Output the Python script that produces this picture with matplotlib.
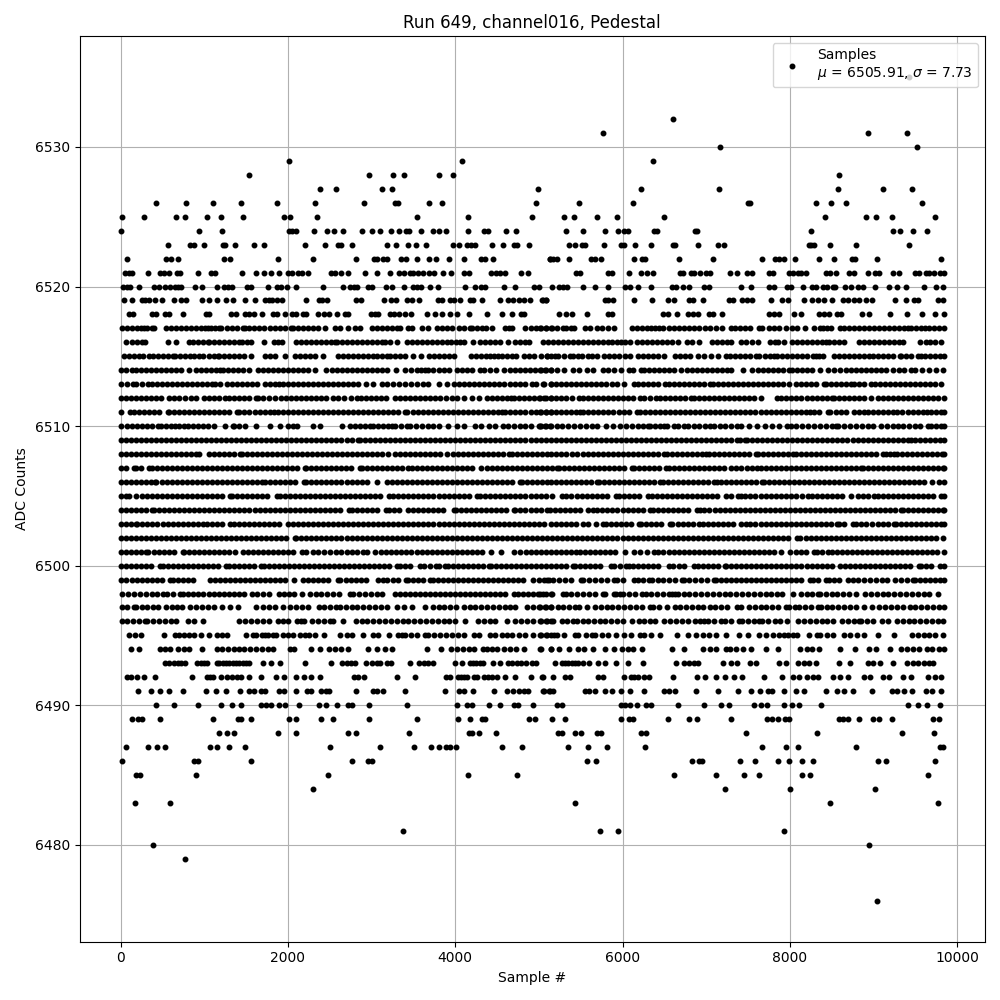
#!/bin/python
import numpy as np
import matplotlib
matplotlib.use('Agg')
import matplotlib.pyplot as plt

# sample numbers, one list per ADC level
adc_6535 = [9425]
adc_6532 = [6600]
adc_6531 = [5772, 8940, 9396]
adc_6530 = [7164, 9516]
adc_6529 = [2012, 4076, 6360]
adc_6528 = [1532, 2972, 3260, 3392, 3800, 3968, 8592]
adc_6527 = [2384, 2576, 3128, 3248, 4988, 6216, 7152, 8580, 9120, 9456]
adc_6526 = [428, 776, 1100, 1436, 1868, 2324, 2912, 3284, 3320, 3692, 3836, 4964, 5484, 6120, 7500, 7524, 8316, 8496, 8676, 9580]
adc_6525 = [20, 284, 656, 764, 1028, 1196, 1460, 1952, 2024, 2348, 3548, 4148, 4916, 5304, 5424, 5700, 5940, 6492, 8424, 8916, 9036, 9228, 9732]
adc_6524 = [0, 932, 1208, 2012, 2048, 2096, 2312, 2468, 2552, 2660, 2888, 3008, 3104, 3236, 3332, 3416, 3452, 3596, 3740, 3800, 3884, 4148, 4340, 4388, 4604, 4724,
            5328, 5532, 5796, 5952, 6012, 6060, 6372, 6408, 6864, 6888, 8256, 9240, 9312, 9468, 9636]
adc_6523 = [560, 824, 872, 992, 1220, 1244, 1364, 1592, 1712, 2204, 2444, 2600, 2636, 2768, 3188, 3296, 3440, 3536, 3656, 3968, 4040, 4136, 4184, 4232, 4436, 4568, 4700, 4736, 4880,
            5364, 5436, 5520, 5556, 5784, 5976, 6012, 6144, 6336, 6600, 6624, 6900, 7140, 7212, 8232, 8256, 8292, 8484, 8796, 9420]
adc_6522 = [80, 536, 596, 680, 1232, 1304, 1880, 2300, 2816, 3032, 3068, 3140, 3188, 3356, 3416, 3548, 3692, 3776, 3920, 4100, 4304, 4352, 4448, 5132,
            5136, 5172, 5220, 5364, 5628, 5676, 5748, 6132, 6228, 6264, 6672, 7080, 7668, 7824, 7872, 7932, 8064, 8352, 8532, 8748, 8784, 9048, 9804]
adc_6521 = [56, 104, 140, 332, 476, 512, 572, 668, 704, 920, 1076, 1124, 1448, 1616, 1712, 1796, 1892, 2000, 2048, 2120, 2168, 2240, 2516, 2564, 2636, 2720, 2924, 3068, 3224, 3332, 3392, 3464, 3500, 3560, 3620, 3692, 3752, 3848, 3944, 4100, 4160, 4424, 4484, 4532, 4592, 4784, 4868,
            5448, 5496, 5832, 5880, 6072, 6216, 6288, 6360, 6684, 6720, 6816, 6852, 6924, 6996, 7044, 7284, 7368, 7488, 7548, 7752, 7800, 7992, 8040, 8100, 8136, 8196, 8436, 8484, 8556, 8712, 8772, 8940, 9024, 9072, 9240, 9300, 9492, 9540, 9624, 9660, 9720, 9792, 9840]
adc_6520 = [32, 80, 116, 224, 404, 464, 524, 584, 644, 680, 716, 884, 968, 1148, 1232, 1280, 1328, 1508, 1556, 1760, 1868, 1916, 1988, 2096, 2420, 2660, 2744, 2792, 2828, 2960, 3008, 3176, 3248, 3392, 3500, 3548, 3596, 3704, 3788, 4112, 4232, 4304, 4352, 4580, 4712, 4940, 5000,
            5160, 5244, 5292, 5340, 5532, 5676, 5832, 6024, 6084, 6180, 6336, 6588, 6636, 6720, 6792, 6972, 7032, 7416, 7536, 7752, 7812, 7968, 8016, 8160, 8268, 8316, 8400, 8448, 8520, 8544, 8664, 8736, 8820, 8880, 9024, 9192, 9276, 9384, 9600, 9744, 9828]
adc_6519 = [44, 140, 260, 296, 344, 416, 488, 632, 716, 776, 968, 1052, 1148, 1256, 1340, 1484, 1604, 1724, 1772, 1808, 1868, 1928, 2216, 2372, 2408, 2468, 2816, 2876, 3152, 3236, 3296, 3428, 3488, 3572, 3788, 3836, 3932, 3980, 4052, 4172, 4208, 4316, 4532, 4628, 4688, 4760, 4820, 4892, 5036, 5084,
            5052, 5088, 5796, 5832, 5892, 6132, 6348, 6540, 6612, 6792, 6840, 6960, 7272, 7320, 7428, 7488, 7548, 7776, 7908, 7980, 8172, 8268, 8340, 8412, 8508, 8640, 8700, 8772, 8832, 8916, 8988, 9264, 9384, 9480, 9528, 9768, 9828]
adc_6518 = [104, 152, 380, 428, 524, 572, 740, 1016, 1052, 1316, 1376, 1484, 1532, 1592, 1688, 1820, 1868, 1964, 2048, 2096, 2180, 2216, 2360, 2432, 2492, 2588, 2684, 2720, 2996, 3044, 3080, 3224, 3272, 3332, 3404, 3476, 3668, 3764, 3836, 3932, 4016, 4160, 4376, 4556, 4676, 4784, 4820,
            5244, 5328, 5400, 5580, 5832, 5880, 6480, 6540, 6648, 6780, 6840, 6900, 7032, 7080, 7188, 7752, 7812, 7872, 8052, 8136, 8352, 8412, 8472, 8568, 8616, 8868, 8952, 9204, 9396, 9576, 9732, 9840]
adc_6517 = [12, 70, 130, 190, 240, 280, 320, 370, 400, 540, 600, 660, 720, 780, 840, 900, 960, 1010, 1040, 1080, 1130, 1172, 1200, 1268, 1330, 1390, 1460, 1484, 1532, 1590, 1650, 1710, 1788, 1840, 1900, 1960, 2040, 2060, 2120, 2180, 2240, 2300, 2360, 2440, 2560, 2620, 2720, 2800, 2860, 3000, 3060, 3120, 3180, 3240, 3300, 3340, 3440, 3480, 3600, 3680, 3780, 3840, 3900, 3960, 4040, 4100, 4180, 4200, 4260, 4320, 4372, 4440, 4600, 4640, 4680, 4832, 4900, 4960, 5020, 5080, 5140,
            5012, 5090, 5160, 5220, 5284, 5324, 5380, 5424, 5552, 5612, 5692, 5750, 5830, 5900, 6112, 6170, 6230, 6290, 6340, 6392, 6432, 6490, 6550, 6610, 6670, 6730, 6790, 6850, 6920, 6992, 7052, 7120, 7192, 7292, 7350, 7410, 7470, 7530, 7632, 7672, 7752, 7812, 7872, 7950, 8032, 8088, 8184, 8292, 8364, 8392, 8440, 8492, 8600, 8652, 8710, 8770, 8830, 8890, 8950, 9010, 9072, 9132, 9190, 9250, 9310, 9370, 9412, 9452, 9510, 9572, 9612, 9670, 9730, 9790, 9840]
adc_6516 = [68, 130, 190, 250, 292, 560, 660, 812, 870, 930, 990, 1040, 1060, 1120, 1180, 1240, 1300, 1360, 1420, 1452, 1510, 1560, 1712, 1828, 1880, 1932, 2100, 2160, 2220, 2280, 2340, 2400, 2460, 2520, 2560, 2588, 2650, 2710, 2770, 2830, 2890, 2950, 3010, 3070, 3120, 3160, 3220, 3308, 3420, 3480, 3540, 3600, 3660, 3720, 3780, 3840, 3900, 3950, 4010, 4060, 4108, 4212, 4300, 4360, 4420, 4480, 4540, 4636, 4720, 4780, 4840, 4880,
            5052, 5110, 5170, 5230, 5290, 5350, 5410, 5470, 5530, 5590, 5650, 5710, 5770, 5832, 5872, 5930, 5980, 6032, 6084, 6172, 6232, 6290, 6350, 6410, 6470, 6530, 6590, 6660, 6772, 6830, 6912, 7072, 7130, 7190, 7250, 7300, 7420, 7480, 7550, 7620, 7764, 7820, 7860, 7932, 8032, 8092, 8150, 8210, 8270, 8330, 8390, 8432, 8472, 8530, 8590, 8644, 8832, 8890, 8950, 9010, 9070, 9130, 9190, 9250, 9310, 9352, 9552, 9632, 9680, 9732, 9812]
adc_6515 = [40, 100, 160, 220, 268, 340, 388, 450, 510, 570, 620, 652, 710, 770, 830, 880, 932, 990, 1050, 1110, 1160, 1172, 1230, 1290, 1350, 1410, 1470, 1560, 1728, 1790, 1840, 1968, 2080, 2140, 2200, 2260, 2320, 2420, 2600, 2660, 2720, 2780, 2840, 2900, 2960, 3020, 3060, 3120, 3180, 3220, 3280, 3340, 3400, 3500, 3592, 3692, 3750, 3810, 3870, 3930, 3980, 4188, 4250, 4310, 4370, 4420, 4460, 4510, 4560, 4620, 4680, 4732, 4820, 4880, 4940, 5020, 5100,
            5092, 5140, 5192, 5232, 5300, 5372, 5412, 5470, 5512, 5592, 5640, 5692, 5780, 5840, 5900, 5960, 6032, 6092, 6180, 6240, 6300, 6360, 6420, 6492, 6632, 6690, 6750, 6812, 6900, 6980, 7060, 7140, 7232, 7290, 7350, 7410, 7470, 7530, 7592, 7632, 7700, 7760, 7812, 7852, 7910, 7970, 8030, 8090, 8150, 8210, 8272, 8312, 8350, 8392, 8532, 8590, 8650, 8710, 8770, 8830, 8890, 8952, 8992, 9050, 9110, 9170, 9230, 9312, 9332, 9390, 9450, 9532, 9564, 9620, 9680, 9740, 9800, 9840]
adc_6514 = [0, 60, 140, 180, 240, 300, 360, 420, 480, 540, 600, 660, 720, 812, 900, 960, 1020, 1080, 1140, 1188, 1220, 1280, 1340, 1400, 1468, 1540, 1640, 1700, 1760, 1820, 1880, 1940, 2000, 2060, 2120, 2180, 2240, 2320, 2460, 2532, 2590, 2650, 2710, 2770, 2830, 2890, 2950, 3010, 3070, 3130, 3190, 3292, 3400, 3470, 3540, 3588, 3640, 3680, 3732, 3800, 3860, 3920, 4020, 4080, 4140, 4200, 4292, 4348, 4420, 4492, 4588, 4650, 4710, 4770, 4830, 4890, 4950, 5010, 5070, 5140,
            5020, 5080, 5140, 5220, 5300, 5410, 5480, 5572, 5652, 5764, 5830, 5900, 5984, 6072, 6130, 6220, 6260, 6320, 6380, 6440, 6500, 6560, 6620, 6700, 6772, 6832, 6890, 6950, 7010, 7070, 7130, 7190, 7250, 7300, 7444, 7552, 7620, 7680, 7740, 7800, 7860, 7920, 7992, 8032, 8090, 8150, 8210, 8270, 8364, 8452, 8530, 8600, 8672, 8730, 8790, 8850, 8910, 8970, 9030, 9090, 9152, 9232, 9300, 9370, 9452, 9500, 9584, 9660, 9752, 9832]
adc_6513 = [0, 70, 152, 180, 250, 332, 372, 430, 490, 550, 610, 670, 730, 790, 850, 910, 970, 1030, 1090, 1132, 1188, 1268, 1330, 1390, 1450, 1510, 1570, 1630, 1728, 1788, 1840, 1888, 1940, 2000, 2060, 2120, 2180, 2240, 2300, 2360, 2420, 2480, 2540, 2600, 2660, 2720, 2780, 2840, 2932, 3012, 3120, 3188, 3250, 3328, 3400, 3470, 3540, 3610, 3680, 3800, 3900, 3980, 4040, 4100, 4160, 4220, 4280, 4340, 4400, 4460, 4520, 4588, 4650, 4710, 4780, 4840, 4920, 4960, 5060, 5140,
            5052, 5140, 5200, 5260, 5320, 5380, 5440, 5500, 5560, 5620, 5680, 5740, 5800, 5872, 5940, 6012, 6132, 6190, 6250, 6310, 6370, 6430, 6512, 6552, 6610, 6670, 6730, 6790, 6850, 6910, 6970, 7052, 7084, 7140, 7200, 7260, 7320, 7380, 7440, 7500, 7560, 7620, 7680, 7740, 7800, 7860, 7920, 7992, 8072, 8130, 8190, 8250, 8310, 8404, 8432, 8490, 8550, 8610, 8670, 8732, 8772, 8830, 8890, 8972, 9024, 9080, 9140, 9200, 9260, 9320, 9380, 9440, 9500, 9560, 9620, 9680, 9740, 9812]
adc_6512 = [0, 60, 120, 180, 240, 300, 360, 420, 480, 580, 640, 700, 770, 840, 900, 992, 1050, 1110, 1170, 1252, 1292, 1350, 1410, 1470, 1530, 1612, 1644, 1700, 1770, 1848, 1920, 1980, 2040, 2100, 2160, 2220, 2280, 2340, 2400, 2460, 2540, 2600, 2670, 2748, 2820, 2868, 2930, 2990, 3050, 3110, 3170, 3280, 3340, 3400, 3460, 3520, 3580, 3640, 3700, 3760, 3820, 3890, 3960, 4020, 4100, 4200, 4280, 4380, 4440, 4500, 4560, 4620, 4668, 4700, 4760, 4820, 4880, 4940, 5000, 5060, 5140,
            5012, 5080, 5140, 5200, 5260, 5320, 5400, 5480, 5524, 5590, 5650, 5710, 5770, 5830, 5890, 5950, 6010, 6070, 6130, 6212, 6260, 6330, 6404, 6452, 6510, 6570, 6630, 6690, 6750, 6820, 6852, 6910, 6970, 7030, 7090, 7150, 7210, 7270, 7330, 7390, 7450, 7510, 7570, 7660, 7844, 7900, 7960, 8020, 8080, 8140, 8200, 8260, 8320, 8380, 8440, 8504, 8532, 8590, 8650, 8710, 8770, 8830, 8890, 8972, 9052, 9110, 9170, 9230, 9290, 9350, 9410, 9470, 9530, 9590, 9650, 9710, 9770, 9840]
adc_6511 = [0, 108, 160, 220, 280, 340, 400, 460, 560, 580, 640, 700, 760, 820, 880, 940, 1000, 1060, 1120, 1180, 1240, 1300, 1388, 1420, 1480, 1540, 1600, 1660, 1720, 1788, 1828, 1880, 1940, 2000, 2060, 2120, 2180, 2240, 2300, 2360, 2420, 2480, 2540, 2600, 2660, 2720, 2780, 2840, 2900, 2960, 3020, 3080, 3140, 3200, 3260, 3320, 3400, 3428, 3490, 3550, 3610, 3670, 3730, 3790, 3850, 3910, 3970, 4030, 4090, 4150, 4210, 4270, 4330, 4390, 4450, 4510, 4560, 4600, 4660, 4720, 4780, 4840, 4900, 4960, 5020, 5080, 5140,
            5012, 5080, 5140, 5200, 5260, 5320, 5380, 5440, 5492, 5524, 5590, 5650, 5710, 5770, 5830, 5890, 5960, 6012, 6080, 6172, 6212, 6270, 6330, 6390, 6450, 6510, 6570, 6630, 6690, 6750, 6810, 6870, 6930, 6990, 7050, 7110, 7170, 7230, 7290, 7350, 7410, 7470, 7530, 7590, 7650, 7710, 7770, 7830, 7890, 7950, 8010, 8070, 8130, 8190, 8244, 8284, 8350, 8452, 8484, 8550, 8610, 8670, 8772, 8832, 8884, 8940, 9000, 9060, 9120, 9180, 9232, 9284, 9344, 9410, 9470, 9530, 9590, 9644, 9684, 9750, 9810, 9842]
adc_6510 = [0, 80, 140, 200, 260, 320, 380, 452, 480, 540, 600, 652, 692, 760, 800, 860, 920, 980, 1040, 1120, 1252, 1340, 1360, 1420, 1488, 1612, 1788, 1908, 2000, 2060, 2108, 2300, 2380, 2652, 2740, 2800, 2860, 2920, 2980, 3020, 3080, 3140, 3200, 3240, 3280, 3350, 3420, 3460, 3530, 3600, 3670, 3740, 3810, 3912, 4020, 4100, 4240, 4310, 4400, 4480, 4572, 4630, 4700, 4770, 4840, 4910, 5000, 5028, 5080, 5140,
            5012, 5070, 5132, 5212, 5280, 5350, 5420, 5490, 5560, 5630, 5700, 5804, 5884, 5972, 6040, 6110, 6180, 6240, 6300, 6324, 6390, 6450, 6500, 6532, 6620, 6660, 6732, 6780, 6850, 6920, 6990, 7052, 7092, 7160, 7230, 7300, 7370, 7412, 7512, 7604, 7700, 7792, 7870, 7964, 8012, 8080, 8150, 8220, 8290, 8360, 8430, 8500, 8552, 8580, 8650, 8720, 8790, 8860, 8930, 9000, 9092, 9160, 9230, 9290, 9352, 9424, 9500, 9552, 9652, 9684, 9750, 9810, 9840]
adc_6509 = [0, 60, 120, 180, 240, 300, 360, 420, 480, 540, 600, 660, 720, 780, 840, 900, 960, 1020, 1080, 1140, 1200, 1260, 1320, 1380, 1440, 1500, 1560, 1620, 1680, 1740, 1800, 1860, 1920, 1980, 2040, 2100, 2160, 2220, 2280, 2340, 2400, 2460, 2520, 2580, 2640, 2700, 2760, 2840, 2860, 2920, 2980, 3040, 3100, 3160, 3220, 3280, 3340, 3400, 3460, 3520, 3580, 3640, 3700, 3760, 3820, 3880, 3940, 4000, 4060, 4120, 4180, 4240, 4300, 4360, 4420, 4480, 4540, 4600, 4660, 4720, 4780, 4840, 4900, 4960, 5020, 5080, 5140,
            5200, 5260, 5320, 5380, 5440, 5500, 5560, 5620, 5680, 5740, 5800, 5860, 5920, 5980, 6040, 6100, 6160, 6220, 6280, 6340, 6400, 6460, 6520, 6580, 6640, 6700, 6760, 6820, 6880, 6940, 7000, 7060, 7120, 7180, 7240, 7300, 7372, 7404, 7460, 7492, 7550, 7610, 7670, 7730, 7790, 7850, 7910, 7970, 8030, 8090, 8150, 8210, 8270, 8330, 8390, 8450, 8510, 8570, 8630, 8690, 8750, 8810, 8870, 8930, 8990, 9050, 9110, 9170, 9230, 9290, 9350, 9412, 9444, 9500, 9560, 9620, 9680, 9740, 9800, 9842]
adc_6508 = [0, 60, 120, 180, 240, 300, 360, 420, 480, 540, 600, 660, 720, 780, 840, 900, 940, 1052, 1110, 1170, 1230, 1290, 1350, 1428, 1452, 1510, 1570, 1630, 1690, 1750, 1810, 1870, 1930, 1990, 2050, 2110, 2170, 2230, 2290, 2350, 2410, 2470, 2530, 2590, 2650, 2710, 2770, 2830, 2890, 2950, 3010, 3070, 3130, 3200, 3280, 3340, 3400, 3460, 3520, 3580, 3640, 3700, 3760, 3820, 3900, 3972, 4030, 4090, 4150, 4210, 4270, 4330, 4390, 4450, 4510, 4570, 4640, 4680, 4740, 4800, 4860, 4920, 4980, 5040, 5100, 5140,
            5200, 5260, 5320, 5400, 5452, 5524, 5590, 5650, 5710, 5770, 5830, 5890, 5950, 6010, 6070, 6130, 6190, 6250, 6310, 6370, 6430, 6492, 6532, 6592, 6650, 6710, 6770, 6830, 6890, 6950, 7004, 7032, 7090, 7150, 7210, 7270, 7330, 7390, 7450, 7510, 7592, 7620, 7680, 7740, 7800, 7860, 7920, 7980, 8044, 8072, 8130, 8190, 8250, 8310, 8370, 8430, 8490, 8550, 8610, 8670, 8730, 8790, 8850, 8910, 8970, 9030, 9112, 9152, 9200, 9252, 9284, 9340, 9400, 9460, 9520, 9580, 9640, 9700, 9760, 9820, 9842]
adc_6507 = [0, 60, 160, 180, 240, 340, 372, 430, 490, 550, 610, 670, 730, 790, 850, 910, 970, 1030, 1090, 1150, 1210, 1270, 1330, 1390, 1450, 1510, 1570, 1630, 1690, 1750, 1810, 1870, 1930, 1990, 2050, 2110, 2200, 2212, 2270, 2330, 2390, 2450, 2510, 2570, 2630, 2690, 2750, 2860, 2880, 2940, 3000, 3060, 3120, 3180, 3240, 3300, 3360, 3440, 3480, 3540, 3600, 3660, 3720, 3780, 3840, 3900, 3960, 4020, 4080, 4140, 4200, 4308, 4380, 4440, 4500, 4560, 4620, 4680, 4740, 4800, 4860, 4920, 4980, 5040, 5100,
            5160, 5212, 5244, 5300, 5360, 5420, 5480, 5540, 5600, 5660, 5720, 5780, 5840, 5900, 5960, 6020, 6112, 6140, 6200, 6260, 6320, 6380, 6440, 6524, 6552, 6610, 6670, 6730, 6790, 6850, 6910, 6970, 7030, 7090, 7150, 7210, 7292, 7352, 7420, 7490, 7550, 7612, 7652, 7710, 7770, 7830, 7890, 7950, 8010, 8070, 8130, 8190, 8250, 8310, 8370, 8430, 8490, 8550, 8610, 8670, 8730, 8790, 8852, 8872, 8930, 8990, 9050, 9110, 9170, 9230, 9290, 9350, 9410, 9470, 9530, 9590, 9650, 9710, 9770, 9830, 9842]
adc_6506 = [0, 60, 120, 180, 240, 300, 360, 412, 428, 490, 550, 610, 670, 730, 790, 850, 910, 970, 1030, 1090, 1150, 1210, 1270, 1330, 1390, 1450, 1510, 1570, 1630, 1688, 1728, 1780, 1840, 1900, 1960, 2020, 2080, 2188, 2220, 2280, 2340, 2400, 2460, 2520, 2580, 2640, 2700, 2760, 2820, 2880, 2940, 3060, 3180, 3240, 3300, 3360, 3420, 3480, 3540, 3600, 3660, 3720, 3780, 3840, 3900, 3960, 4020, 4080, 4140, 4200, 4260, 4320, 4380, 4440, 4500, 4560, 4620, 4680, 4772, 4800, 4860, 4920, 4980, 5040, 5100,
            5140, 5200, 5260, 5320, 5380, 5440, 5500, 5560, 5620, 5700, 5724, 5780, 5840, 5900, 5960, 6020, 6080, 6140, 6200, 6260, 6320, 6380, 6452, 6484, 6540, 6600, 6660, 6720, 6780, 6840, 6900, 6960, 7020, 7092, 7124, 7180, 7240, 7300, 7360, 7420, 7480, 7540, 7600, 7664, 7692, 7750, 7810, 7870, 7930, 7990, 8050, 8110, 8170, 8230, 8290, 8350, 8410, 8470, 8530, 8590, 8650, 8710, 8770, 8830, 8890, 8950, 9010, 9070, 9130, 9190, 9250, 9310, 9370, 9430, 9490, 9550, 9610, 9700, 9780, 9842]
adc_6505 = [0, 60, 100, 188, 250, 310, 370, 430, 490, 550, 610, 670, 730, 790, 850, 910, 970, 1030, 1090, 1150, 1210, 1308, 1332, 1390, 1450, 1510, 1570, 1630, 1690, 1750, 1868, 1900, 1960, 2020, 2080, 2140, 2200, 2260, 2320, 2380, 2440, 2500, 2560, 2620, 2680, 2740, 2800, 2860, 2920, 2980, 3040, 3100, 3212, 3260, 3320, 3380, 3440, 3500, 3560, 3620, 3680, 3740, 3800, 3860, 3920, 3980, 4040, 4100, 4160, 4260, 4300, 4360, 4420, 4480, 4540, 4600, 4660, 4720, 4780, 4840, 4900, 4960, 5020, 5080,
            5152, 5272, 5330, 5390, 5450, 5510, 5570, 5630, 5690, 5750, 5810, 5924, 5964, 6020, 6080, 6140, 6200, 6300, 6352, 6412, 6470, 6530, 6590, 6650, 6710, 6770, 6830, 6890, 6950, 7010, 7070, 7130, 7232, 7292, 7380, 7412, 7470, 7530, 7590, 7650, 7710, 7770, 7830, 7890, 7950, 8010, 8070, 8152, 8212, 8270, 8330, 8390, 8450, 8510, 8570, 8630, 8732, 8812, 8870, 8940, 9012, 9052, 9110, 9170, 9230, 9290, 9350, 9410, 9470, 9530, 9590, 9650, 9710, 9812, 9840]
adc_6504 = [0, 60, 120, 180, 240, 300, 372, 400, 460, 520, 580, 640, 700, 760, 820, 880, 940, 1000, 1060, 1120, 1180, 1240, 1300, 1360, 1420, 1480, 1540, 1600, 1660, 1720, 1780, 1840, 1900, 1960, 2020, 2080, 2140, 2200, 2260, 2320, 2380, 2440, 2500, 2560, 2620, 2732, 2760, 2820, 2880, 2940, 3000, 3060, 3172, 3212, 3270, 3330, 3440, 3492, 3550, 3610, 3670, 3730, 3790, 3850, 3988, 4012, 4070, 4130, 4190, 4250, 4310, 4370, 4430, 4490, 4550, 4610, 4700, 4720, 4780, 4840, 4900, 4960, 5020, 5092,
            5132, 5190, 5250, 5310, 5370, 5430, 5490, 5592, 5644, 5700, 5760, 5820, 5880, 5940, 6000, 6060, 6120, 6180, 6240, 6332, 6364, 6420, 6480, 6540, 6600, 6660, 6720, 6780, 6892, 6924, 6980, 7040, 7100, 7160, 7220, 7280, 7340, 7400, 7460, 7520, 7580, 7640, 7700, 7760, 7820, 7880, 7940, 8000, 8060, 8120, 8180, 8240, 8300, 8360, 8420, 8480, 8540, 8600, 8660, 8720, 8780, 8840, 8900, 8960, 9020, 9080, 9140, 9200, 9260, 9324, 9352, 9410, 9470, 9530, 9590, 9650, 9710, 9770, 9830, 9842]
adc_6503 = [0, 60, 120, 180, 200, 260, 320, 380, 440, 500, 560, 620, 680, 740, 800, 860, 920, 980, 1028, 1092, 1150, 1210, 1308, 1352, 1410, 1470, 1530, 1590, 1650, 1710, 1770, 1830, 1890, 2000, 2060, 2120, 2180, 2240, 2300, 2360, 2420, 2480, 2540, 2600, 2660, 2720, 2780, 2840, 2900, 2960, 3020, 3080, 3140, 3200, 3260, 3320, 3380, 3440, 3500, 3560, 3620, 3680, 3740, 3800, 3860, 3920, 3980, 4040, 4100, 4160, 4220, 4280, 4340, 4400, 4460, 4520, 4580, 4640, 4700, 4760, 4820, 4880, 4940, 5000, 5060, 5140,
            5200, 5260, 5320, 5380, 5440, 5524, 5592, 5680, 5772, 5804, 5860, 5920, 5980, 6040, 6100, 6192, 6220, 6280, 6340, 6400, 6460, 6572, 6596, 6660, 6720, 6780, 6840, 6912, 6964, 7020, 7080, 7140, 7200, 7260, 7320, 7412, 7472, 7530, 7590, 7650, 7710, 7770, 7830, 7890, 7950, 8010, 8070, 8130, 8190, 8250, 8310, 8370, 8430, 8490, 8564, 8592, 8650, 8752, 8792, 8850, 8910, 8980, 9052, 9110, 9170, 9252, 9268, 9330, 9390, 9450, 9510, 9570, 9630, 9690, 9750, 9810, 9842]
adc_6502 = [0, 60, 120, 180, 240, 300, 360, 420, 480, 540, 600, 660, 720, 780, 840, 900, 960, 1020, 1080, 1140, 1200, 1260, 1320, 1380, 1440, 1500, 1560, 1620, 1680, 1740, 1800, 1860, 1920, 1980, 2080, 2100, 2160, 2220, 2280, 2340, 2400, 2460, 2520, 2580, 2640, 2700, 2760, 2820, 2880, 2940, 3000, 3060, 3120, 3180, 3240, 3300, 3360, 3420, 3480, 3540, 3600, 3660, 3720, 3780, 3840, 3900, 3960, 4020, 4080, 4140, 4200, 4260, 4320, 4380, 4440, 4500, 4560, 4620, 4680, 4740, 4800, 4860, 4920, 4980, 5040, 5100,
            5160, 5220, 5280, 5340, 5400, 5460, 5520, 5580, 5640, 5700, 5760, 5820, 5880, 5940, 6000, 6060, 6120, 6180, 6240, 6300, 6360, 6420, 6480, 6540, 6600, 6660, 6720, 6780, 6840, 6900, 6960, 7020, 7080, 7140, 7200, 7260, 7320, 7380, 7440, 7500, 7560, 7620, 7680, 7740, 7800, 7860, 7920, 7980, 8084, 8124, 8192, 8250, 8310, 8370, 8430, 8490, 8550, 8610, 8670, 8730, 8790, 8850, 8910, 8970, 9030, 9090, 9150, 9210, 9270, 9330, 9390, 9450, 9510, 9570, 9630, 9690, 9750, 9830]
adc_6501 = [0, 60, 120, 180, 240, 300, 332, 400, 460, 520, 580, 640, 740, 760, 820, 880, 940, 1000, 1060, 1120, 1180, 1240, 1300, 1372, 1460, 1520, 1580, 1640, 1700, 1760, 1820, 1880, 1940, 2000, 2060, 2172, 2220, 2300, 2360, 2430, 2500, 2580, 2640, 2700, 2760, 2820, 2892, 2940, 3040, 3108, 3170, 3230, 3290, 3350, 3410, 3470, 3540, 3600, 3660, 3720, 3780, 3840, 3900, 3960, 4020, 4080, 4140, 4200, 4260, 4320, 4428, 4548, 4708, 4780, 4852, 4900, 4960, 5020, 5080, 5140,
            5200, 5260, 5320, 5380, 5440, 5492, 5550, 5610, 5670, 5730, 5790, 5850, 5910, 6032, 6140, 6210, 6292, 6372, 6430, 6490, 6550, 6610, 6670, 6730, 6790, 6850, 6910, 6970, 7030, 7090, 7150, 7210, 7270, 7330, 7390, 7450, 7510, 7570, 7630, 7690, 7750, 7810, 7900, 8004, 8070, 8130, 8190, 8284, 8324, 8390, 8452, 8500, 8560, 8620, 8680, 8740, 8800, 8860, 8920, 8980, 9040, 9100, 9160, 9220, 9280, 9340, 9400, 9460, 9520, 9580, 9640, 9700, 9760, 9840]
adc_6500 = [0, 60, 120, 180, 240, 300, 360, 468, 500, 560, 620, 680, 740, 800, 860, 920, 980, 1040, 1100, 1160, 1260, 1292, 1350, 1410, 1470, 1530, 1590, 1680, 1708, 1770, 1830, 1890, 1950, 2010, 2070, 2130, 2190, 2250, 2310, 2370, 2430, 2490, 2550, 2610, 2670, 2730, 2790, 2850, 2910, 2970, 3030, 3090, 3150, 3210, 3300, 3340, 3400, 3460, 3580, 3628, 3700, 3772, 3804, 3880, 3908, 3970, 4030, 4090, 4150, 4210, 4270, 4330, 4400, 4428, 4490, 4550, 4610, 4670, 4730, 4790, 4850, 4910, 4970, 5030, 5090,
            5140, 5200, 5260, 5320, 5412, 5432, 5490, 5550, 5610, 5670, 5730, 5860, 5900, 5970, 6044, 6072, 6130, 6190, 6250, 6310, 6370, 6430, 6552, 6600, 6670, 6740, 6860, 6900, 6960, 7020, 7080, 7140, 7220, 7236, 7300, 7360, 7420, 7480, 7540, 7600, 7660, 7720, 7780, 7840, 7900, 7960, 8020, 8080, 8140, 8200, 8260, 8320, 8380, 8440, 8500, 8604, 8664, 8720, 8780, 8840, 8900, 8960, 9020, 9080, 9140, 9200, 9260, 9320, 9380, 9440, 9540, 9572, 9632, 9692, 9792, 9842]
adc_6499 = [0, 68, 130, 190, 250, 310, 370, 430, 490, 588, 620, 680, 740, 800, 868, 1068, 1130, 1190, 1250, 1310, 1370, 1430, 1490, 1550, 1610, 1670, 1730, 1790, 1850, 1910, 1970, 2068, 2180, 2240, 2300, 2360, 2420, 2480, 2600, 2628, 2690, 2750, 2810, 2870, 2930, 3080, 3132, 3190, 3250, 3310, 3412, 3440, 3500, 3560, 3620, 3700, 3732, 3790, 3850, 3910, 3970, 4030, 4090, 4150, 4210, 4270, 4330, 4390, 4450, 4510, 4570, 4630, 4690, 4750, 4810, 4932, 5000, 5060, 5120,
            5100, 5172, 5240, 5310, 5380, 5500, 5532, 5600, 5670, 5740, 5810, 5900, 5940, 6010, 6140, 6180, 6250, 6312, 6356, 6420, 6490, 6560, 6630, 6712, 6740, 6800, 6870, 6940, 7010, 7092, 7112, 7180, 7240, 7300, 7360, 7420, 7480, 7540, 7600, 7660, 7720, 7780, 7840, 7900, 7960, 8020, 8080, 8140, 8244, 8272, 8340, 8432, 8472, 8530, 8590, 8692, 8752, 8820, 8890, 8960, 9030, 9100, 9164, 9260, 9324, 9400, 9472, 9500, 9560, 9620, 9680, 9740, 9800, 9840]
adc_6498 = [20, 90, 160, 230, 300, 370, 440, 508, 548, 620, 708, 748, 810, 870, 930, 990, 1050, 1110, 1170, 1230, 1290, 1350, 1410, 1470, 1572, 1628, 1700, 1770, 1892, 1948, 2010, 2070, 2172, 2260, 2330, 2400, 2470, 2540, 2610, 2740, 2780, 2850, 2920, 2990, 3060, 3130, 3280, 3340, 3400, 3460, 3520, 3580, 3640, 3700, 3760, 3820, 3880, 3940, 4000, 4060, 4120, 4180, 4240, 4300, 4360, 4420, 4480, 4540, 4600, 4700, 4748, 4810, 4870, 4930, 4990, 5050, 5140,
            5012, 5090, 5160, 5292, 5324, 5390, 5460, 5530, 5600, 5670, 5772, 5792, 5900, 5924, 5972, 6004, 6080, 6150, 6232, 6276, 6340, 6410, 6480, 6556, 6592, 6632, 6660, 6730, 6800, 6870, 6940, 7010, 7080, 7150, 7220, 7290, 7360, 7430, 7500, 7570, 7640, 7710, 7780, 7850, 7912, 8040, 8140, 8210, 8270, 8332, 8364, 8430, 8500, 8570, 8640, 8710, 8792, 8900, 8970, 9040, 9110, 9180, 9250, 9320, 9390, 9460, 9530, 9604, 9660, 9772]
adc_6497 = [12, 80, 160, 188, 252, 320, 390, 452, 540, 612, 670, 732, 828, 900, 970, 1040, 1110, 1212, 1308, 1400, 1620, 1700, 1770, 1840, 1940, 2028, 2100, 2170, 2240, 2372, 2428, 2508, 2570, 2628, 2688, 2760, 2830, 2900, 2970, 3040, 3110, 3180, 3300, 3388, 3480, 3640, 3732, 3800, 3860, 3932, 4004, 4100, 4172, 4240, 4310, 4380, 4452, 4520, 4590, 4652, 4720, 4860, 4930, 5000, 5070, 5140,
            5012, 5080, 5150, 5232, 5292, 5360, 5430, 5484, 5572, 5672, 5740, 5810, 5880, 5950, 6020, 6090, 6160, 6230, 6332, 6364, 6440, 6532, 6624, 6690, 6760, 6830, 6900, 6964, 7044, 7110, 7180, 7250, 7364, 7412, 7512, 7580, 7650, 7720, 7790, 7860, 7952, 7992, 8060, 8112, 8184, 8250, 8332, 8372, 8440, 8510, 8580, 8650, 8720, 8790, 8884, 8980, 9072, 9140, 9210, 9280, 9350, 9432, 9500, 9570, 9640, 9710, 9780, 9840]
adc_6496 = [12, 80, 150, 220, 292, 320, 390, 460, 530, 600, 660, 800, 880, 980, 1420, 1490, 1560, 1630, 1700, 1770, 1880, 1940, 2000, 2108, 2160, 2188, 2292, 2360, 2428, 2500, 2540, 2660, 2812, 2880, 2950, 3020, 3090, 3160, 3230, 3300, 3370, 3440, 3510, 3580, 3650, 3720, 3790, 3860, 3930, 4000, 4120, 4268, 4340, 4410, 4480, 4620, 4720, 4790, 4860, 4930, 5020, 5080, 5140,
            5012, 5092, 5172, 5272, 5340, 5404, 5452, 5532, 5592, 5660, 5732, 5792, 5860, 5930, 6000, 6112, 6192, 6260, 6324, 6392, 6500, 6570, 6640, 6710, 6780, 6872, 6932, 6972, 7024, 7090, 7172, 7220, 7300, 7392, 7432, 7500, 7570, 7632, 7672, 7740, 7820, 7884, 7972, 8100, 8170, 8240, 8310, 8380, 8450, 8520, 8624, 8700, 8770, 8832, 8852, 8920, 9000, 9100, 9172, 9284, 9350, 9420, 9490, 9560, 9630, 9700, 9772, 9830]
adc_6495 = [100, 170, 240, 520, 652, 700, 760, 820, 880, 960, 1060, 1148, 1210, 1268, 1500, 1580, 1620, 1688, 1720, 1760, 1820, 1860, 1940, 2000, 2060, 2140, 2200, 2252, 2320, 2428, 2628, 2700, 2770, 2892, 3012, 3080, 3212, 3312, 3360, 3400, 3470, 3540, 3640, 3680, 3750, 3820, 3890, 3960, 4030, 4100, 4220, 4280, 4420, 4480, 4560, 4620, 4680, 4760, 4840, 4932, 5020, 5080, 5140,
            5012, 5100, 5180, 5220, 5300, 5432, 5472, 5560, 5632, 5672, 5750, 5832, 5924, 6020, 6100, 6212, 6252, 6340, 6452, 6652, 6780, 6884, 6960, 7040, 7112, 7236, 7392, 7500, 7632, 7710, 7804, 7872, 7932, 7984, 8040, 8092, 8232, 8324, 8364, 8440, 8512, 8644, 8720, 8800, 8884, 9060, 9244, 9460, 9530, 9600, 9670, 9740, 9830]
adc_6494 = [120, 220, 468, 530, 588, 680, 760, 820, 968, 1148, 1210, 1280, 1350, 1420, 1480, 1550, 1620, 1690, 1760, 1820, 2028, 2068, 2280, 2388, 2492, 2560, 2640, 2720, 2952, 3060, 3160, 3240, 3668, 3828, 3948, 4020, 4090, 4160, 4230, 4332, 4380, 4440, 4500, 4588, 4660, 4732, 4828, 5028, 5140,
            5012, 5140, 5240, 5364, 5472, 5544, 5652, 5792, 5904, 5992, 6060, 6130, 6232, 6588, 6732, 6964, 7052, 7120, 7232, 7284, 7352, 7440, 7540, 7712, 7860, 8124, 8200, 8270, 8352, 8604, 8784, 8944, 9032, 9200, 9324, 9400, 9470, 9540, 9644, 9700, 9780, 9840]
adc_6493 = [532, 580, 640, 680, 720, 772, 908, 960, 1000, 1028, 1148, 1180, 1228, 1260, 1300, 1340, 1380, 1420, 1460, 1500, 1540, 1700, 1796, 1904, 2204, 2516, 2644, 2700, 2748, 2804, 2932, 3000, 3060, 3100, 3188, 3232, 3464, 3572, 3628, 3680, 3732, 3996, 4076, 4172, 4212, 4252, 4292, 4332, 4448, 4532, 4628, 4680, 4740, 4788, 4852, 4920, 4968,
            5192, 5272, 5312, 5352, 5392, 5432, 5472, 5532, 5596, 5712, 5792, 5924, 6060, 6240, 6644, 6732, 6792, 6852, 6900, 7200, 7300, 7372, 7524, 7592, 7872, 7952, 8100, 8172, 8232, 8312, 8592, 8724, 8940, 8992, 9076, 9240, 9396, 9472, 9532, 9604, 9664, 9716]
adc_6492 = [80, 128, 200, 284, 412, 848, 1028, 1068, 1108, 1200, 1268, 1332, 1388, 1440, 1532, 1676, 1856, 1952, 2096, 2192, 2276, 2384, 2792, 2840, 2912, 3308, 3524, 3884, 3932, 4028, 4068, 4108, 4140, 4220, 4260, 4340, 4388, 4440, 4500, 4600, 4712, 4904, 5048,
            5040, 5172, 5312, 5372, 5712, 5772, 6020, 6100, 6140, 6180, 6260, 6320, 6600, 6892, 6992, 7120, 7224, 7332, 7432, 7692, 7912, 8040, 8112, 8200, 8272, 8340, 8520, 8604, 8700, 8892, 8964, 9112, 9192, 9352, 9444, 9652, 9732, 9812]
adc_6491 = [212, 368, 476, 572, 740, 1016, 1136, 1256, 1424, 1532, 1592, 1676, 1728, 1892, 1948, 2096, 2228, 2276, 2396, 2460, 2492, 2816, 3020, 3068, 3132, 3404, 3872, 4040, 4100, 4208, 4460, 4616, 4688, 4760, 4820, 4868, 5060, 5120,
            5052, 5132, 5172, 5552, 5604, 5676, 5796, 5880, 5976, 6084, 6252, 6492, 6552, 6632, 6876, 7140, 7380, 7536, 7644, 7740, 7792, 7932, 8076, 8172, 8436, 8568, 8652, 8752, 8988, 9220, 9276, 9360, 9456, 9624, 9700, 9804]
adc_6490 = [428, 632, 924, 1196, 1328, 1436, 1676, 1736, 1796, 1892, 1964, 2132, 2372, 2460, 2588, 2720, 2768, 2972, 3428, 4016, 4136, 4196, 4400, 4532, 4700, 4748, 4928,
            5212, 5272, 5976, 6024, 6084, 6168, 6284, 6344, 6660, 6972, 7176, 7272, 7572, 7656, 7728, 7932, 8028, 8112, 8376, 9408, 9528, 9636, 9792]
adc_6489 = [140, 212, 260, 476, 1100, 1400, 1440, 1556, 2012, 2096, 2396, 2540, 2972, 3548, 4028, 4172, 4316, 4360, 4880, 4952,
            5160, 5316, 5976, 6072, 6120, 6540, 6792, 6892, 7300, 7728, 7788, 7860, 7944, 7992, 8592, 8640, 8692, 8832, 9000, 9072, 9228, 9712, 9780]
adc_6488 = [1172, 1268, 1352, 1880, 2096, 2720, 2812, 3452, 4160, 4200, 4280, 4484,
            5232, 5280, 5436, 5508, 5692, 5740, 6220, 6276, 7476, 8328, 9336, 9720]
adc_6487 = [68, 332, 440, 524, 1064, 1148, 1292, 1484, 2504, 3104, 3512, 3716, 3800, 3884, 3940, 4004, 4560, 4796,
            5352, 5592, 5820, 6264, 7668, 7956, 8100, 8796, 9800, 9830]
adc_6486 = [20, 872, 920, 1556, 2768, 2960, 3000, 5580, 5688, 6828, 6912, 6948, 7400, 7580, 7860, 7992, 8148, 8280, 9060, 9156, 9736]
adc_6485 = [188, 228, 896, 2480, 4148, 4736, 6612, 7116, 7452, 7632, 8148, 8244, 9656]
adc_6484 = [2300, 7224, 8000, 9016]
adc_6483 = [176, 584, 5436, 8484, 9768]
adc_6481 = [3380, 5736, 5952, 7932]
adc_6480 = [392, 8952]
adc_6479 = [764]
adc_6476 = [9048]

levels = [6535, 6532, 6531, 6530, 6529, 6528, 6527, 6526, 6525, 6524, 6523, 6522, 6521, 6520,
          6519, 6518, 6517, 6516, 6515, 6514, 6513, 6512, 6511, 6510, 6509, 6508, 6507, 6506,
          6505, 6504, 6503, 6502, 6501, 6500, 6499, 6498, 6497, 6496, 6495, 6494, 6493, 6492,
          6491, 6490, 6489, 6488, 6487, 6486, 6485, 6484, 6483, 6481, 6480, 6479, 6476]
samples = [adc_6535, adc_6532, adc_6531, adc_6530, adc_6529, adc_6528, adc_6527, adc_6526, adc_6525, adc_6524,
           adc_6523, adc_6522, adc_6521, adc_6520, adc_6519, adc_6518, adc_6517, adc_6516, adc_6515, adc_6514,
           adc_6513, adc_6512, adc_6511, adc_6510, adc_6509, adc_6508, adc_6507, adc_6506, adc_6505, adc_6504,
           adc_6503, adc_6502, adc_6501, adc_6500, adc_6499, adc_6498, adc_6497, adc_6496, adc_6495, adc_6494,
           adc_6493, adc_6492, adc_6491, adc_6490, adc_6489, adc_6488, adc_6487, adc_6486, adc_6485, adc_6484,
           adc_6483, adc_6481, adc_6480, adc_6479, adc_6476]

x = np.concatenate([np.array(s) for s in samples])
y = np.concatenate([np.full(len(s), level) for level, s in zip(levels, samples)])

plt.figure(figsize=(10, 10))
plt.plot(x, y, 'k.', markersize=6.5, label='Samples\n$\\mu$ = 6505.91, $\\sigma$ = 7.73')
plt.title('Run 649, channel016, Pedestal')
plt.xlabel('Sample #')
plt.ylabel('ADC Counts')
plt.grid(True)
plt.legend(loc='upper right')
plt.tight_layout()
plt.subplots_adjust(top=0.964)
plt.savefig('out.png', dpi=100)
